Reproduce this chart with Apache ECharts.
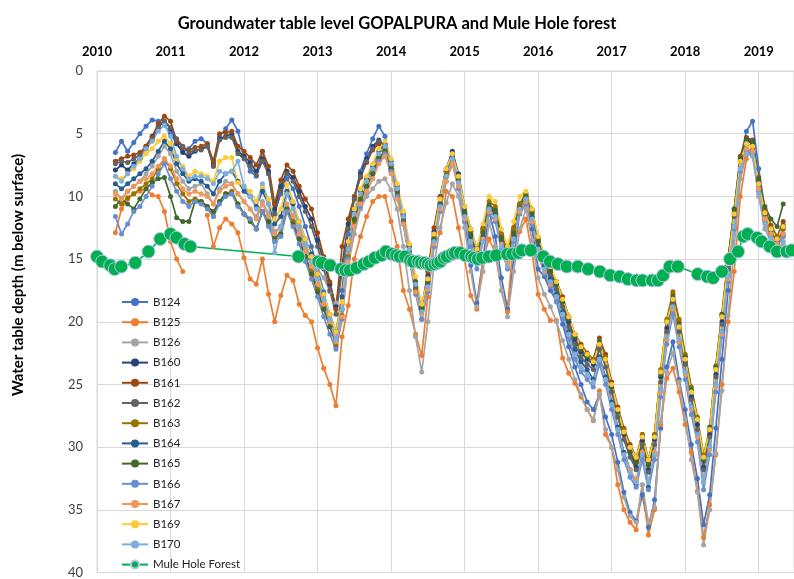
<!DOCTYPE html>
<html><head><meta charset="utf-8">
<script src="https://cdn.jsdelivr.net/npm/echarts@6/dist/echarts.min.js"></script>
<style>html,body{margin:0;padding:0;background:#fff}#c{width:794px;height:579px}</style>
</head><body><div id="c"></div>
<script>
// first well reading (April 2010), monthly readings after that
const wellStart = 2010.25;
const yearTicks = [2010, 2011, 2012, 2013, 2014, 2015, 2016, 2017, 2018, 2019];

const B124 = [6.5,5.6,6.4,5.7,5.0,4.4,3.9,4.0,4.3,5.0, 5.8,6.4,6.2,5.6,5.4,5.8,7.6,5.2,4.6,3.9, 4.8,6.8,8.0,8.4,6.4,8.2,11.2,9.8,8.6,9.4, 10.8,12.4,14.0,15.8,17.6,20.0,22.0,17.5,13.0,10.2, 8.0,6.6,5.4,4.4,5.2,7.5,9.8,12.2,15.0,17.4, 19.8,17.2,13.5,10.5,8.0,6.6,8.8,12.0,15.5,18.5, 15.0,11.2,13.2,16.5,19.0,15.0,11.2,10.3,12.6,15.8, 16.4,17.5,18.4,20.2,22.0,23.6,25.0,26.4,27.0,25.8, 27.6,29.0,31.2,33.6,35.2,35.9,33.8,36.4,34.2,28.5, 23.6,21.6,24.6,27.0,29.8,32.5,36.2,33.8,28.5,23.0, 17.5,12.5,7.0,4.8,4.0,7.8,11.0,12.5,13.8,12.4];
const B125 = [12.9,11.0,10.2,9.8,9.6,9.4,9.9,10.0,11.2,13.6, 15.0,16.0,null,null,null,11.5,14.0,12.5,11.8,12.2, 12.9,14.9,16.6,17.0,15.0,17.8,20.0,17.9,16.3,16.7, 18.6,19.5,20.0,22.1,23.7,25.0,26.7,21.2,18.7,15.0, 13.2,11.6,10.4,10.0,10.0,12.0,14.0,17.5,19.0,21.0, 22.7,18.0,14.0,12.9,9.6,10.0,12.5,15.0,17.9,19.0, 15.0,13.4,14.5,17.5,19.2,13.2,12.8,11.8,14.5,17.8, 19.0,19.9,19.9,22.9,24.1,24.9,26.0,27.0,27.9,25.5, 29.0,30.0,33.0,35.0,36.0,36.6,33.0,37.0,35.0,28.2, 24.5,23.7,25.6,28.2,30.4,33.5,37.2,34.6,30.6,25.0, 20.0,16.0,10.0,7.0,6.0,8.8,11.2,12.6,13.8,13.2];
const B126 = [9.6,10.2,9.6,9.2,8.8,8.2,7.6,6.8,6.0,6.6, 8.0,8.8,9.4,9.2,9.0,9.8,10.6,9.4,8.8,9.0, 9.8,10.4,11.0,11.6,10.4,11.4,12.8,12.4,10.8,11.5, 12.8,14.0,15.2,15.8,16.5,17.6,18.5,19.0,15.5,13.0, 11.0,10.0,9.4,8.8,8.6,9.5,11.0,14.0,17.5,21.2, 24.0,20.0,15.5,12.5,10.5,9.0,10.0,12.5,16.0,18.8, 16.0,12.0,14.0,17.5,19.6,16.0,12.6,11.0,13.5,16.5, 17.8,18.8,20.0,21.5,23.0,24.6,25.8,27.0,27.8,25.8, 28.6,30.0,31.8,34.0,35.5,36.0,33.0,36.0,34.8,28.0, 24.0,22.5,24.8,27.8,31.0,33.6,37.8,35.0,30.5,25.5, 19.5,14.0,8.6,6.6,6.8,10.0,12.6,13.6,14.5,13.8];
const B160 = [7.9,7.5,7.9,7.4,7.0,6.0,5.2,4.4,4.0,4.6, 5.8,6.5,6.8,6.4,6.2,6.0,7.4,5.4,5.2,5.0, 6.4,6.8,7.3,8.0,7.0,8.0,11.0,9.2,8.0,8.5, 9.6,10.8,11.8,13.5,15.2,17.0,18.8,15.5,12.2,10.0, 8.2,7.0,6.0,5.5,6.0,7.5,9.5,11.8,14.0,17.0, 18.8,16.3,12.8,10.0,7.8,6.4,8.2,10.8,12.6,14.2, 12.6,10.9,11.2,13.2,14.6,12.7,10.6,9.8,11.0,13.5, 15.2,16.0,17.0,18.4,20.0,21.4,22.4,23.0,23.4,21.8, 23.0,25.2,27.2,29.0,30.4,31.6,29.5,31.8,29.4,24.4, 20.5,18.2,20.4,23.2,26.0,28.2,31.6,29.0,24.2,20.0, 15.5,11.4,7.0,5.5,5.8,8.8,11.2,12.6,13.4,12.3];
const B161 = [7.2,7.0,6.8,6.7,6.5,6.0,5.3,4.2,3.6,4.0, 5.6,6.1,6.3,6.1,6.0,5.8,7.2,5.0,4.9,4.8, 6.0,6.4,6.9,7.5,6.4,7.6,10.6,8.7,7.5,8.0, 9.2,10.2,11.0,12.9,14.8,16.8,19.0,14.0,11.8,10.0, 8.5,7.3,6.3,5.8,6.5,8.0,10.0,12.0,14.5,17.5, 19.0,16.0,12.5,10.0,8.0,6.8,8.5,11.0,12.8,14.2, 12.5,11.0,11.0,13.0,14.4,12.5,10.8,10.0,11.2,13.3, 15.0,15.9,16.8,18.0,19.6,21.0,21.8,22.5,23.0,21.3, 22.6,24.8,26.8,28.5,29.8,30.8,29.0,31.0,29.0,24.0, 20.0,17.8,20.0,22.8,25.5,27.8,31.0,28.7,23.8,19.6, 15.2,11.0,6.8,5.3,5.5,8.5,11.0,12.3,13.2,12.0];
const B162 = [7.4,7.2,7.3,7.0,6.7,6.2,5.5,4.5,4.0,4.5, 5.4,6.0,6.5,6.3,6.3,6.0,7.6,5.5,5.3,5.3, 6.6,7.0,7.6,8.3,7.2,8.2,11.4,9.6,8.2,8.8, 10.0,11.2,12.4,14.0,15.8,17.5,19.4,16.0,12.6,10.2, 8.4,7.2,6.2,5.6,6.2,7.8,9.8,12.0,14.4,17.2, 19.2,16.5,13.0,10.2,8.0,6.6,8.4,11.0,12.8,14.5, 12.8,11.0,11.4,13.4,14.8,12.8,10.8,10.0,11.3,13.6, 15.4,16.3,17.4,18.8,20.4,21.8,22.8,23.4,23.8,22.2, 23.6,25.6,27.6,29.4,30.8,31.8,29.8,32.0,29.8,24.8, 20.8,18.5,20.8,23.4,26.2,28.6,31.8,29.2,24.4,20.2, 15.8,11.6,7.2,5.8,6.0,9.0,11.4,12.8,13.6,12.6];
const B163 = [10.2,10.6,10.1,9.8,9.4,9.0,8.6,7.8,7.0,7.8, 9.0,9.8,10.4,10.2,10.4,10.8,11.6,10.4,9.8,9.6, 10.6,11.4,11.8,12.6,11.2,12.2,13.4,13.0,11.0,12.0, 13.4,14.8,16.0,17.4,18.8,20.4,21.8,19.5,14.8,12.0, 10.4,9.2,8.2,7.0,6.4,7.8,9.6,11.6,14.0,16.8, 19.0,16.8,13.2,10.5,8.2,6.8,8.6,11.2,12.8,14.2, 12.6,10.4,10.8,13.0,14.4,12.6,10.6,9.8,11.2,13.4, 14.8,15.8,16.8,18.2,19.6,21.0,22.0,22.6,23.0,21.6, 22.8,25.0,27.0,28.6,30.0,30.8,29.0,31.0,29.0,23.8, 19.8,17.6,19.8,22.6,25.2,27.6,30.6,28.6,23.5,19.4, 15.0,11.2,7.2,5.8,6.0,9.0,11.3,12.5,13.2,12.5];
const B164 = [9.0,9.4,9.0,8.6,8.2,7.8,7.2,6.4,5.6,6.2, 7.4,8.2,8.8,8.6,8.8,9.2,9.8,8.8,8.2,8.0, 8.8,9.6,10.0,10.8,9.6,10.6,12.2,11.6,9.6,10.6, 12.0,13.4,14.6,16.2,17.8,19.4,20.8,18.0,13.6,11.2, 9.6,8.6,7.6,6.4,5.8,7.2,9.2,11.4,14.0,16.8, 18.8,17.0,13.4,10.6,8.4,6.9,8.8,11.4,13.2,14.8, 13.2,10.9,11.4,13.6,15.0,13.1,11.0,10.2,11.6,14.0, 15.6,16.6,17.8,19.2,20.8,22.2,23.2,23.8,24.6,22.8, 24.4,26.4,28.4,30.4,31.8,33.0,30.6,33.2,30.6,25.4, 21.4,19.0,21.6,24.0,26.8,29.0,32.8,30.0,25.0,20.8, 16.4,12.4,7.8,6.2,6.4,9.4,11.8,13.0,13.8,13.0];
const B165 = [10.8,10.2,10.6,11.0,10.2,9.4,8.9,8.6,8.5,10.0, 11.7,12.0,12.0,10.4,10.4,10.8,11.2,10.4,9.8,9.8, 10.6,11.4,12.0,12.6,11.2,12.0,13.2,13.0,11.0,12.2, 13.4,14.8,16.2,17.6,19.0,20.4,21.6,19.0,14.2,11.8, 10.2,9.2,8.2,6.9,6.4,7.8,9.6,11.6,14.0,16.8, 18.9,16.8,13.4,10.7,8.4,7.0,8.8,11.2,13.0,14.4, 12.9,10.7,11.1,13.3,14.7,12.9,10.9,10.0,11.4,13.6, 15.0,16.0,17.0,18.4,19.8,21.2,22.2,22.8,23.2,21.6, 23.0,25.2,27.2,28.8,30.4,31.2,29.2,31.4,29.2,24.2, 20.0,18.0,20.2,22.8,25.4,27.8,31.0,28.4,23.6,19.4, 15.0,11.0,7.0,5.4,5.6,8.6,10.8,11.8,12.4,10.6];
const B166 = [11.6,13.0,12.2,11.2,10.8,10.0,9.2,8.2,7.4,8.6, 9.6,10.4,10.8,10.4,10.6,11.0,11.6,10.6,10.0,9.8, 10.8,11.4,11.8,12.6,11.2,12.4,13.6,13.2,11.2,12.4, 13.8,15.2,16.6,18.0,19.6,21.0,22.2,19.8,15.0,12.4, 10.8,9.6,8.6,7.2,6.6,8.0,10.0,12.2,15.0,17.8, 19.8,17.6,14.0,11.2,8.8,7.4,9.4,12.0,14.0,15.8, 13.6,11.4,12.0,14.2,15.8,13.6,11.4,10.6,12.2,14.6, 16.2,17.2,18.4,19.8,21.4,23.0,24.0,24.6,25.2,23.4, 25.0,27.0,29.0,31.0,32.4,33.2,31.0,33.4,31.0,26.0, 21.8,19.4,22.0,24.6,27.4,29.6,33.4,30.6,25.6,21.2, 16.8,12.6,8.0,6.4,6.6,9.6,12.0,13.2,14.0,13.2];
const B167 = [9.8,10.2,9.6,9.2,8.8,8.6,8.2,7.6,7.0,7.6, 8.6,9.4,9.8,9.6,9.8,10.0,10.6,9.6,9.2,9.0, 9.8,10.4,11.0,11.8,10.6,11.6,13.0,12.4,10.6,11.6, 13.0,14.4,15.6,17.0,18.6,20.0,21.6,19.6,15.2,12.4, 10.6,9.6,8.6,7.4,6.8,8.2,10.2,12.2,14.8,17.6, 19.4,17.4,13.8,11.0,8.8,7.4,9.2,11.8,13.6,15.2, 13.4,11.2,11.8,13.8,15.3,13.4,11.2,10.4,12.0,14.4, 16.0,17.0,18.0,19.4,21.0,22.6,23.6,24.2,24.8,23.0, 24.6,26.6,28.6,30.6,31.8,32.6,30.4,32.8,30.4,25.6, 21.4,19.0,21.6,24.2,27.0,29.2,32.8,30.2,25.2,21.0, 16.6,12.4,7.8,6.2,6.4,9.4,11.8,13.0,13.8,13.0];
const B169 = [8.4,8.6,8.2,7.8,7.2,6.6,6.2,5.6,5.2,5.8, 7.0,7.6,8.4,8.0,8.2,8.4,8.8,7.2,6.9,6.9, 8.9,9.2,9.6,10.4,9.2,10.2,11.8,11.0,9.0,10.4, 12.0,13.4,14.8,16.2,17.8,19.4,20.8,18.4,13.6,11.0, 9.4,8.4,7.4,6.2,5.6,7.0,9.0,11.2,13.8,16.4, 18.6,16.6,13.0,10.2,7.8,6.6,8.4,10.8,12.6,14.2, 12.2,10.0,10.4,12.6,14.0,12.0,10.0,9.6,11.0,13.2, 14.6,15.6,16.8,18.2,19.6,21.0,22.0,22.6,23.2,21.8, 23.0,25.0,27.0,28.8,30.0,30.8,29.2,31.0,29.2,24.0, 20.0,18.2,20.4,23.0,25.6,27.8,30.8,28.6,23.8,19.6, 15.4,11.4,7.2,5.8,6.0,9.0,11.3,12.6,13.4,12.4];
const B170 = [8.4,8.8,8.2,7.6,7.0,6.2,5.6,4.8,4.3,5.2, 6.8,7.8,8.6,8.4,8.4,8.6,9.0,8.0,8.2,8.0, 7.2,9.2,10.0,11.0,9.0,10.6,14.5,12.4,9.8,11.0, 12.4,13.8,15.2,16.6,18.2,19.8,21.4,19.0,14.2,11.4, 9.8,8.8,7.8,6.6,6.0,7.4,9.4,11.6,14.2,17.0, 19.2,17.2,13.6,10.8,8.4,7.0,8.9,11.6,13.6,15.4, 13.6,11.0,11.6,14.0,15.6,13.4,11.0,10.2,11.8,14.2, 15.8,16.8,18.0,19.4,21.0,22.6,23.6,24.2,24.8,23.0, 24.6,26.6,28.6,30.6,32.0,32.8,30.6,32.8,30.6,25.4, 21.2,18.8,21.4,24.0,26.8,29.0,32.8,30.0,25.0,20.8, 16.4,12.4,7.8,6.6,6.8,9.8,12.2,13.4,14.4,13.6];

const muleYears = [2010.0,2010.07,2010.18,2010.24,2010.33,2010.52,2010.70,2010.86,2011.0,2011.08,2011.19,2011.27,
  2012.74,2013.01,2013.06,2013.17,2013.32,2013.38,2013.44,2013.53,2013.63,2013.70,2013.78,2013.87,2013.93,
  2014.01,2014.07,2014.12,2014.19,2014.26,2014.30,2014.37,2014.41,2014.46,2014.50,2014.54,2014.59,2014.63,2014.67,2014.72,2014.76,2014.83,2014.87,2014.94,
  2015.01,2015.09,2015.13,2015.18,2015.24,2015.33,2015.43,2015.58,2015.65,2015.73,2015.78,2015.90,
  2016.07,2016.16,2016.27,2016.39,2016.54,2016.68,2016.84,2016.98,2017.11,2017.22,2017.34,2017.42,2017.55,2017.63,2017.70,2017.79,2017.90,
  2018.17,2018.30,2018.38,2018.50,2018.61,2018.72,2018.79,2018.85,2018.98,2019.04,2019.15,2019.25,2019.38,2019.45];
const muleDepth = [14.8,15.2,15.5,15.8,15.6,15.3,14.4,13.4,13.0,13.3,13.8,14.0,
  14.8,15.2,15.3,15.5,15.8,15.9,15.9,15.7,15.4,15.2,14.9,14.7,14.4,
  14.6,14.7,14.8,14.8,15.1,15.2,15.2,15.3,15.3,15.4,15.5,15.4,15.3,15.2,14.9,14.8,14.6,14.5,14.5,
  14.7,14.8,14.9,15.0,14.9,14.8,14.7,14.6,14.6,14.5,14.3,14.3,
  14.8,15.2,15.4,15.6,15.6,15.8,16.0,16.3,16.4,16.6,16.7,16.7,16.7,16.7,16.3,15.6,15.6,
  16.2,16.4,16.5,16.0,15.0,14.4,13.2,13.0,13.3,13.6,14.0,14.4,14.4,14.3];

const wells = [
  ['B124', B124, '#4472C4'], ['B125', B125, '#ED7D31'], ['B126', B126, '#A5A5A5'],
  ['B160', B160, '#264478'], ['B161', B161, '#9E480E'], ['B162', B162, '#636363'],
  ['B163', B163, '#997300'], ['B164', B164, '#255E91'], ['B165', B165, '#43682B'],
  ['B166', B166, '#698ED0'], ['B167', B167, '#F1975A'], ['B169', B169, '#FFC933'],
  ['B170', B170, '#7CAFDD']
];

const series = wells.map(([name, vals, color]) => ({
  name, type: 'line',
  data: vals.map((v, i) => [wellStart + i / 12, v === null ? '-' : v]),
  symbol: 'circle', symbolSize: 5, showSymbol: true,
  lineStyle: { width: 1.7, color }, itemStyle: { color },
  connectNulls: false, animation: false
}));
series.push({
  name: 'Mule Hole Forest', type: 'line',
  data: muleYears.map((y, i) => [y, muleDepth[i]]),
  symbol: 'circle', symbolSize: 13,
  lineStyle: { width: 1.6, color: '#00B050' },
  itemStyle: { color: '#00B050', borderColor: '#B4C7E7', borderWidth: 1 },
  animation: false, z: 3
});

const chart = echarts.init(document.getElementById('c'), null, { renderer: 'canvas' });
chart.setOption({
  backgroundColor: '#fff',
  animation: false,
  title: {
    text: 'Groundwater table level GOPALPURA and Mule Hole forest',
    left: 'center', top: 10,
    textStyle: { fontFamily: 'Lato', fontWeight: 'bold', fontSize: 16.5, color: '#000' }
  },
  graphic: [{
    type: 'text', x: 18, y: 275, rotation: Math.PI / 2,
    style: {
      text: 'Water table depth (m below surface)',
      font: 'bold 15px Lato', fill: '#000',
      textAlign: 'center', textVerticalAlign: 'middle'
    }
  }],
  grid: { left: 97, top: 71, right: 0, bottom: 3, show: true, borderColor: '#D9D9D9', borderWidth: 1 },
  legend: {
    orient: 'vertical', left: 121, top: 296, padding: 0, height: 282,
    itemWidth: 26, itemHeight: 10, itemGap: 8.2,
    textStyle: { fontFamily: 'Lato', fontSize: 11.5, color: '#222' },
    data: wells.map(w => w[0]).concat(['Mule Hole Forest'])
  },
  xAxis: {
    type: 'value', position: 'top', min: 2010, max: 2019.48, interval: 1,
    axisLine: { show: false }, axisTick: { show: false },
    splitLine: { show: true, lineStyle: { color: '#D9D9D9', width: 1 } },
    axisLabel: {
      margin: 13, fontFamily: 'Lato', fontWeight: 'bold', fontSize: 13, color: '#000',
      showMaxLabel: false,
      formatter: v => yearTicks.includes(v) ? String(v) : ''
    }
  },
  yAxis: {
    type: 'value', inverse: true, min: 0, max: 40, interval: 5,
    axisLine: { show: false }, axisTick: { show: false },
    splitLine: { show: true, lineStyle: { color: '#D9D9D9', width: 1 } },
    axisLabel: { margin: 14, fontFamily: 'Lato', fontSize: 13, color: '#404040' }
  },
  series
});
</script>
</body></html>
